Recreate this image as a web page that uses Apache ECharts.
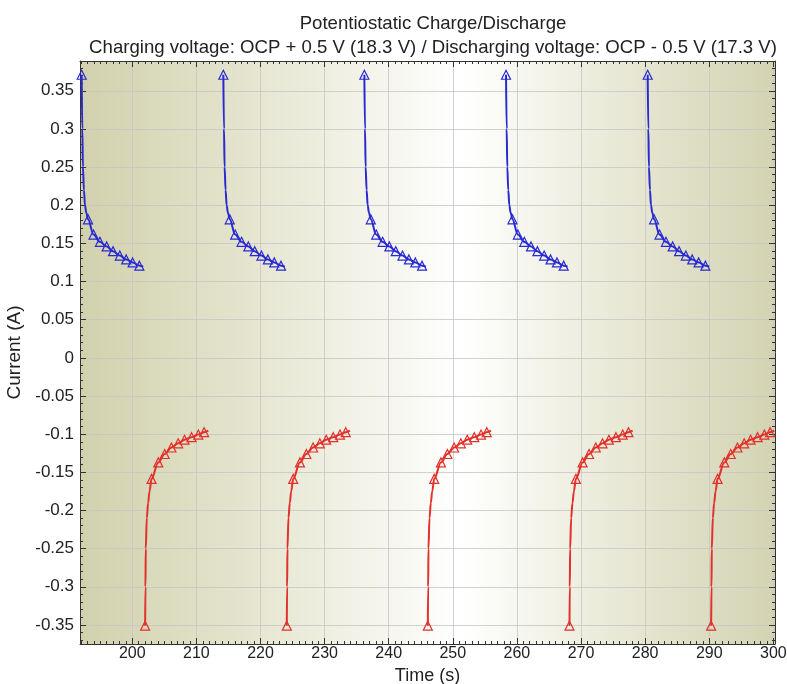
<!DOCTYPE html>
<html>
<head>
<meta charset="utf-8">
<script src="https://cdn.jsdelivr.net/npm/echarts@6/dist/echarts.min.js"></script>
<style>
html,body{margin:0;padding:0;background:#fff;}
#chart{width:787px;height:684px;}
</style>
</head>
<body>
<div id="chart"></div>
<script>
// ---- data ----
const titleLine1 = 'Potentiostatic Charge/Discharge';
const titleLine2 = 'Charging voltage: OCP + 0.5 V (18.3 V) / Discharging voltage: OCP - 0.5 V (17.3 V)';
const xName = 'Time (s)';
const yName = 'Current (A)';

// charge (blue) curves: current values per point (same shape each cycle), marker flags
const chargeCurrent = [0.371, 0.30, 0.25, 0.22, 0.20, 0.19, 0.1815, 0.1616, 0.152, 0.146, 0.1398, 0.134, 0.129, 0.125, 0.1208, 0.1195];
const chargeMarked  = [1, 0, 0, 0, 0, 0, 1, 1, 1, 1, 1, 1, 1, 1, 1, 0];
const chargeTimes = [
  [192.1, 192.2, 192.3, 192.45, 192.62, 192.82, 193.1, 193.95, 194.95, 196.0, 197.0, 198.05, 199.05, 200.05, 201.1, 201.7],
  [214.2, 214.3, 214.4, 214.55, 214.72, 214.92, 215.2, 216.05, 217.05, 218.1, 219.1, 220.15, 221.15, 222.15, 223.2, 223.8],
  [236.2, 236.3, 236.4, 236.55, 236.72, 236.92, 237.2, 238.05, 239.05, 240.1, 241.1, 242.15, 243.15, 244.15, 245.2, 245.8],
  [258.3, 258.4, 258.5, 258.65, 258.82, 259.02, 259.3, 260.15, 261.15, 262.2, 263.2, 264.25, 265.25, 266.25, 267.3, 267.9],
  [280.4, 280.5, 280.6, 280.75, 280.92, 281.12, 281.4, 282.25, 283.25, 284.3, 285.3, 286.35, 287.35, 288.35, 289.4, 290.0]
];

// discharge (red) curves
const dischargeCurrent = [-0.351, -0.30, -0.25, -0.21, -0.19, -0.175, -0.1586, -0.137, -0.126, -0.1175, -0.112, -0.1073, -0.104, -0.1005, -0.0974, -0.0955];
const dischargeMarked  = [1, 0, 0, 0, 0, 0, 1, 1, 1, 1, 1, 1, 1, 1, 1, 0];
const dischargeTimes = [
  [202.0, 202.05, 202.1, 202.26, 202.47, 202.68, 203.0, 204.05, 205.05, 206.1, 207.15, 208.15, 209.25, 210.3, 211.2, 211.85],
  [224.1, 224.15, 224.2, 224.36, 224.57, 224.78, 225.1, 226.15, 227.15, 228.2, 229.25, 230.25, 231.35, 232.4, 233.3, 233.95],
  [246.1, 246.15, 246.2, 246.36, 246.57, 246.78, 247.1, 248.15, 249.15, 250.2, 251.25, 252.25, 253.35, 254.4, 255.3, 255.95],
  [268.2, 268.25, 268.3, 268.46, 268.67, 268.88, 269.2, 270.25, 271.25, 272.3, 273.35, 274.35, 275.45, 276.5, 277.4, 278.05],
  [290.3, 290.35, 290.4, 290.56, 290.77, 290.98, 291.3, 292.35, 293.35, 294.4, 295.45, 296.45, 297.55, 298.6, 299.5, 300.15]
];

const xMin = 191.84, xMax = 300.26;
const yMin = -0.375, yMax = 0.389;

// ---- build chart ----
const FONT = "'Liberation Sans', Arial, sans-serif";
const BLUE = '#2a2ad2';
const RED = '#e2302c';

function makeSeries(times, current, marked, color) {
  return times.map(ts => ({
    type: 'line',
    xAxisIndex: 0, yAxisIndex: 0,
    data: ts.map((t, i) => ({
      value: [t, current[i]],
      symbol: marked[i] ? 'triangle' : 'none'
    })),
    showSymbol: true,
    showAllSymbol: true,
    symbolSize: 9,
    smooth: 0.35,
    smoothMonotone: 'x',
    clip: true,
    lineStyle: { color: color, width: 2 },
    itemStyle: { color: 'rgba(0,0,0,0)', borderColor: color, borderWidth: 1.2 },
    emphasis: { disabled: true },
    silent: true,
    animation: false,
    z: 3
  }));
}

const series = [].concat(
  makeSeries(chargeTimes, chargeCurrent, chargeMarked, BLUE),
  makeSeries(dischargeTimes, dischargeCurrent, dischargeMarked, RED)
);

const axisCommon = {
  type: 'value',
  axisLine: { show: true, onZero: false, lineStyle: { color: '#333', width: 1 } },
  axisTick: { show: true, inside: true, length: 6, lineStyle: { color: '#333' } },
  minorTick: { show: true, length: 3, lineStyle: { color: '#333' } },
  axisLabel: { fontFamily: FONT, fontSize: 16, color: '#222', showMinLabel: false, showMaxLabel: false },
};

const chart = echarts.init(document.getElementById('chart'), null, { renderer: 'canvas' });
chart.setOption({
  animation: false,
  backgroundColor: '#ffffff',
  title: {
    text: titleLine1 + '\n' + titleLine2,
    left: 428,
    top: 7,
    textAlign: 'center',
    textStyle: { fontFamily: FONT, fontSize: 18.6, fontWeight: 'normal', color: '#222', lineHeight: 24 }
  },
  grid: {
    left: 80, right: 12, top: 61, bottom: 40,
    outerBoundsMode: 'none',
    containLabel: false,
    show: true,
    borderWidth: 0,
    backgroundColor: {
      type: 'linear', x: 0, y: 0, x2: 1, y2: 0,
      colorStops: [
        { offset: 0, color: '#d1d1ad' },
        { offset: 0.22, color: '#e3e3cc' },
        { offset: 0.55, color: '#ffffff' },
        { offset: 0.8, color: '#e6e6d2' },
        { offset: 1, color: '#d3d3b3' }
      ]
    }
  },
  xAxis: [
    Object.assign({}, axisCommon, {
      min: xMin, max: xMax, splitNumber: 11, minInterval: 10, maxInterval: 10,
      position: 'bottom',
      name: xName, nameLocation: 'middle', nameGap: 19,
      nameTextStyle: { fontFamily: FONT, fontSize: 18, color: '#222' },
      axisLabel: Object.assign({}, axisCommon.axisLabel, { margin: 2 }),
      minorTick: Object.assign({}, axisCommon.minorTick, { splitNumber: 10 }),
      splitLine: { show: true, lineStyle: { color: 'rgba(198,198,198,0.8)', width: 1 } }
    }),
    Object.assign({}, axisCommon, {
      min: xMin, max: xMax, splitNumber: 11, minInterval: 10, maxInterval: 10,
      position: 'top',
      axisLabel: { show: false },
      minorTick: Object.assign({}, axisCommon.minorTick, { splitNumber: 10 }),
      splitLine: { show: false }
    })
  ],
  yAxis: [
    Object.assign({}, axisCommon, {
      min: yMin, max: yMax, splitNumber: 15, minInterval: 0.05, maxInterval: 0.05,
      position: 'left',
      name: yName, nameLocation: 'middle', nameGap: 48,
      nameTextStyle: { fontFamily: FONT, fontSize: 19, color: '#222' },
      axisLabel: Object.assign({}, axisCommon.axisLabel, { margin: 6, fontSize: 17 }),
      minorTick: Object.assign({}, axisCommon.minorTick, { splitNumber: 5 }),
      splitLine: { show: true, lineStyle: { color: 'rgba(198,198,198,0.8)', width: 1 } }
    }),
    Object.assign({}, axisCommon, {
      min: yMin, max: yMax, splitNumber: 15, minInterval: 0.05, maxInterval: 0.05,
      position: 'right',
      axisLabel: { show: false },
      minorTick: Object.assign({}, axisCommon.minorTick, { splitNumber: 5 }),
      splitLine: { show: false }
    })
  ],
  series: series
});
</script>
</body>
</html>
